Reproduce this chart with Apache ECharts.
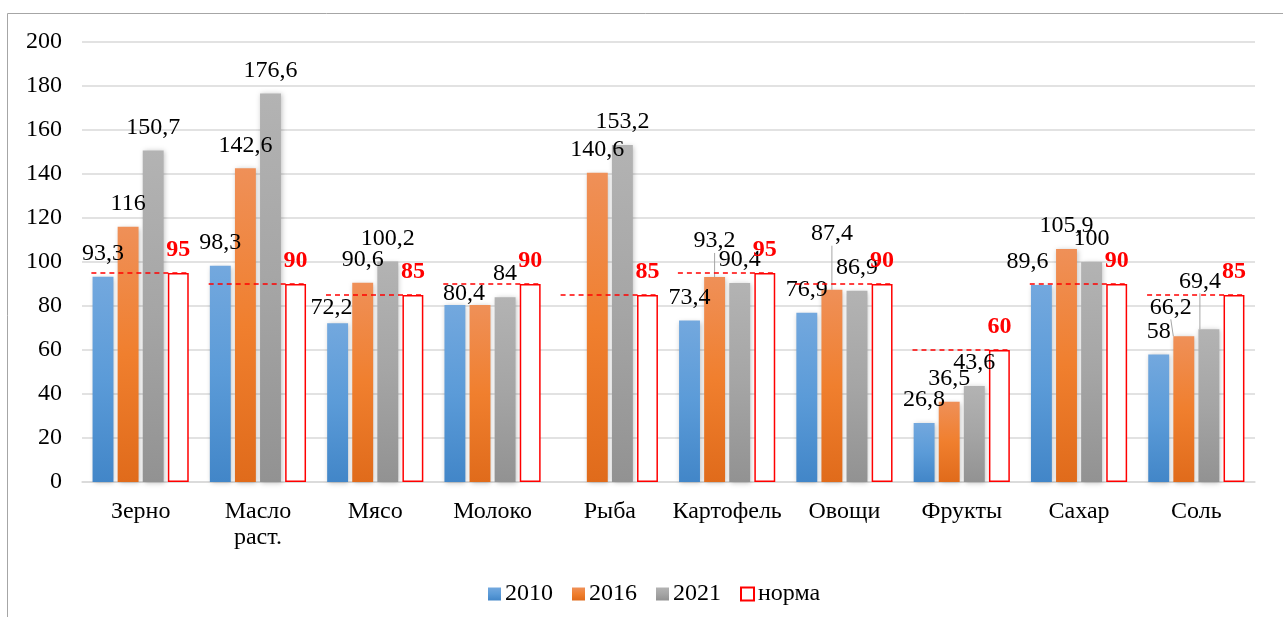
<!DOCTYPE html>
<html lang="ru">
<head>
<meta charset="UTF-8">
<title>Потребление продуктов</title>
<script src="https://cdn.jsdelivr.net/npm/echarts@6/dist/echarts.min.js"></script>
<style>
    html, body { margin: 0; padding: 0; background: #fff; }
    #container { width: 1283px; height: 617px; }
</style>
</head>
<body>
<div id="container"></div>
<script>
    var categories = ['Зерно', 'Масло\nраст.', 'Мясо', 'Молоко', 'Рыба', 'Картофель', 'Овощи', 'Фрукты', 'Сахар', 'Соль'];
    var data2010 = [93.3, 98.3, 72.2, 80.4, '-', 73.4, 76.9, 26.8, 89.6, 58];
    var data2016 = [116, 142.6, 90.6, 80.4, 140.6, 93.2, 87.4, 36.5, 105.9, 66.2];
    var data2021 = [150.7, 176.6, 100.2, 84, 153.2, 90.4, 86.9, 43.6, 100, 69.4];
    var normData = [95, 90, 85, 90, 85, 95, 90, 60, 90, 85];
    var legendNames = ['2010', '2016', '2021', 'норма'];

    // label nudges (series-index - data-index), like the hand-moved labels in the original
    var labelShift = {
        '0-2': [-6, 8], '0-3': [9, 12], '0-8': [-14, 0],
        '1-5': [0, -13], '1-6': [0, -33], '1-9': [-13, -6],
        '2-9': [-9, -25]
    };
    var withLine = { '1-5': 1, '1-6': 1, '1-9': 1, '2-9': 1 };
    var hiddenLabel = { '1-3': 1 };

    var font = 'Liberation Serif';

    function makeItems(arr, s) {
        return arr.map(function (v, i) {
            var key = s + '-' + i;
            var item = { value: v };
            if (hiddenLabel[key]) item.label = { show: false };
            if (withLine[key]) item.labelLine = { show: true, lineStyle: { color: '#a6a6a6', width: 1 } };
            return item;
        });
    }

    function grad(top, mid, bottom) {
        return new echarts.graphic.LinearGradient(0, 0, 0, 1, [
            { offset: 0, color: top },
            { offset: 0.5, color: mid },
            { offset: 1, color: bottom }
        ]);
    }

    function comma(p) {
        return String(p.value).replace('.', ',');
    }

    var barLabel = {
        show: true,
        position: 'top',
        distance: 11,
        color: '#000',
        fontSize: 24,
        fontFamily: font,
        formatter: comma
    };

    var shadow = {
        shadowBlur: 5,
        shadowColor: 'rgba(0,0,0,0.25)',
        shadowOffsetX: 1,
        shadowOffsetY: 1
    };

    function yearSeries(name, arr, s, color) {
        return {
            name: name,
            type: 'bar',
            data: makeItems(arr, s),
            barGap: '20%',
            barCategoryGap: '18%',
            itemStyle: Object.assign({ color: color }, shadow),
            label: barLabel,
            labelLayout: function (params) {
                var sh = labelShift[params.seriesIndex + '-' + params.dataIndex];
                return sh ? { dx: sh[0], dy: sh[1] } : {};
            }
        };
    }

    var dom = document.getElementById('container');
    var myChart = echarts.init(dom);

    var option = {
        animation: false,
        textStyle: { fontFamily: font },
        graphic: [{
            type: 'rect',
            silent: true,
            z: -10,
            shape: { x: 7.5, y: 13.5, width: 1400, height: 700 },
            style: { fill: 'none', stroke: '#a6a6a6', lineWidth: 1 }
        }],
        grid: { left: 82, right: 28, top: 42, bottom: 135 },
        legend: {
            data: legendNames,
            left: 483,
            top: 577,
            itemWidth: 13,
            itemHeight: 13,
            itemGap: 19,
            icon: 'rect',
            textStyle: { fontSize: 24, color: '#000', fontFamily: font, padding: [0, 0, 0, -1] }
        },
        xAxis: {
            type: 'category',
            data: categories,
            axisLine: { lineStyle: { color: '#d9d9d9', width: 1.5 } },
            axisTick: { show: false },
            axisLabel: {
                interval: 0,
                margin: 17,
                fontSize: 24,
                lineHeight: 26,
                color: '#000',
                fontFamily: font
            }
        },
        yAxis: {
            type: 'value',
            min: 0,
            max: 200,
            interval: 20,
            axisLine: { show: false },
            axisTick: { show: false },
            axisLabel: { margin: 20, fontSize: 24, color: '#000', fontFamily: font },
            splitLine: { lineStyle: { color: '#d9d9d9', width: 1.5 } }
        },
        series: [
            yearSeries('2010', data2010, 0, grad('#73a8de', '#5b9bd8', '#4286c8')),
            yearSeries('2016', data2016, 1, grad('#ef9058', '#f07f2e', '#e06b1b')),
            yearSeries('2021', data2021, 2, grad('#b3b3b3', '#a5a5a5', '#929292')),
            {
                name: 'норма',
                type: 'bar',
                data: normData,
                barGap: '20%',
                barCategoryGap: '18%',
                itemStyle: { color: '#fff', borderColor: '#ff0000', borderWidth: 1.5 },
                label: {
                    show: true,
                    position: 'top',
                    distance: 11,
                    color: '#ff0000',
                    fontWeight: 'bold',
                    fontSize: 24,
                    fontFamily: font
                }
            },
            {
                // dashed norm line across each group
                name: 'normLine',
                type: 'custom',
                silent: true,
                z: 5,
                data: normData.map(function (v, i) { return [i, v]; }),
                encode: { x: 0, y: 1 },
                renderItem: function (params, api) {
                    var pt = api.coord([api.value(0), api.value(1)]);
                    var band = api.size([1, 0])[0];
                    return {
                        type: 'line',
                        shape: { x1: pt[0] - band * 0.42, y1: pt[1], x2: pt[0] + band * 0.41, y2: pt[1] },
                        style: { stroke: '#ff0000', lineWidth: 1.5, lineDash: [5, 4] }
                    };
                }
            }
        ]
    };

    myChart.setOption(option, true);
</script>
</body>
</html>
